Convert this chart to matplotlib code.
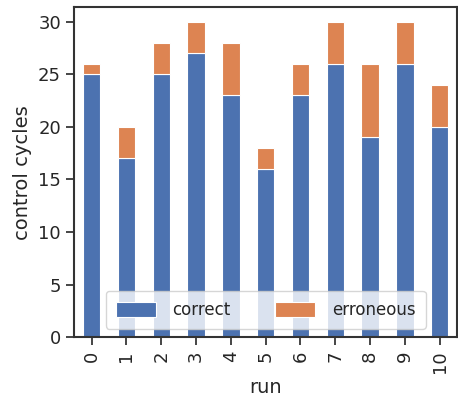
import matplotlib
matplotlib.use("Agg")
import matplotlib.pyplot as plt
import seaborn as sns
import numpy as np

sns.set_theme(style="ticks", palette="deep")
plt.rcParams['font.family'] = ['DejaVu Sans']

runs = list(range(11))
correct = [25, 17, 25, 27, 23, 16, 23, 26, 19, 26, 20]
erroneous = [1, 3, 3, 3, 5, 2, 3, 4, 7, 4, 4]

colors = sns.color_palette("deep")

fig = plt.figure(figsize=(4.58, 3.98), dpi=100)
ax = fig.add_axes([0.162, 0.153, 0.836, 0.829])

x = np.arange(len(runs))
ax.bar(x, correct, width=0.5, color=colors[0], edgecolor="white", linewidth=0.8, label="correct")
ax.bar(x, erroneous, width=0.5, bottom=correct, color=colors[1], edgecolor="white", linewidth=0.8, label="erroneous")

ax.set_xlim(-0.5, 10.5)
ax.set_ylim(0, 31.4)
ax.set_yticks([0, 5, 10, 15, 20, 25, 30])
ax.set_xticks(x)
ax.set_xticklabels([str(r) for r in runs], rotation=90)
ax.tick_params(labelsize=13, length=6, width=1.2)
ax.set_xlabel("run", fontsize=14)
ax.set_ylabel("control cycles", fontsize=14)
for s in ax.spines.values():
    s.set_linewidth(1.5)
    s.set_color("#333333")

ax.legend(loc="lower center", ncol=2, fontsize=12, handlelength=2.4,
          handleheight=1.0, handletextpad=1.0, columnspacing=2.7,
          borderpad=0.6, borderaxespad=0.5, bbox_to_anchor=(0.5, 0))

fig.savefig("out.png", dpi=100)
